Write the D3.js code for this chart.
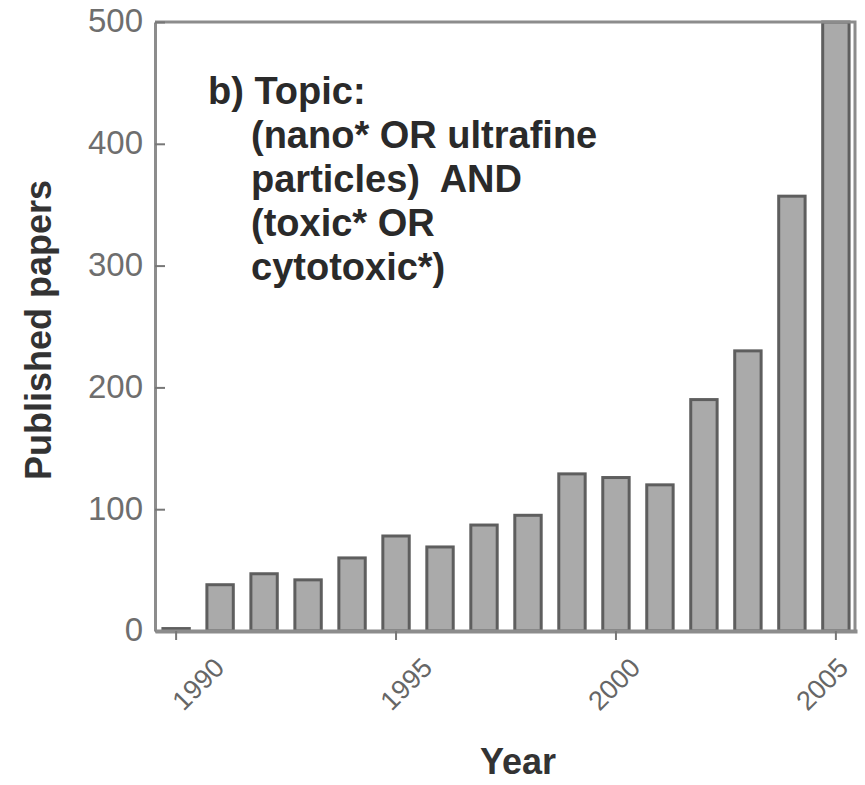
<!DOCTYPE html>
<html>
<head>
<meta charset="utf-8">
<script src="https://cdn.jsdelivr.net/npm/d3@7"></script>
<style>
  html, body { margin: 0; padding: 0; background: #fff; }
  svg { display: block; }
  text { font-family: "Liberation Sans", Arial, sans-serif; }
</style>
</head>
<body>
<svg id="chart" width="865" height="785"></svg>
<script>
// Published papers per year
const years = [1990, 1991, 1992, 1993, 1994, 1995, 1996, 1997, 1998, 1999, 2000, 2001, 2002, 2003, 2004, 2005];
const papers = [2, 38, 47, 42, 60, 78, 69, 87, 95, 129, 126, 120, 190, 230, 357, 500];
const yTicks = [0, 100, 200, 300, 400, 500];
const xTickYears = [1990, 1995, 2000, 2005];
const topicLines = ["b) Topic:", "(nano* OR ultrafine", "particles)  AND", "(toxic* OR", "cytotoxic*)"];

const svg = d3.select("#chart");
const plot = { left: 155, right: 855, top: 22, bottom: 631 };

const x = d3.scaleBand()
  .domain(years)
  .range([plot.left, plot.right + 2])
  .paddingInner(0.4)
  .paddingOuter(0.18);

const y = d3.scaleLinear().domain([0, 500]).range([plot.bottom, plot.top]);

// the rotated year labels sit on a slightly narrower span than the ticks
const xLabel = d3.scaleLinear().domain([1990, 2005]).range([198, 822]);

const axisColor = "#8c8c8c";

// bars
svg.append("g").selectAll("rect")
  .data(years.map((yr, i) => ({ yr, v: papers[i] })))
  .join("rect")
  .attr("x", d => x(d.yr))
  .attr("y", d => y(d.v))
  .attr("width", x.bandwidth())
  .attr("height", d => y(0) - y(d.v))
  .attr("fill", "#aaaaaa")
  .attr("stroke", "#5e5e5e")
  .attr("stroke-width", 3);

// frame: top and right borders
svg.append("path")
  .attr("d", `M${plot.left},${plot.top}H${plot.right}V${plot.bottom}`)
  .attr("fill", "none")
  .attr("stroke", axisColor)
  .attr("stroke-width", 3);

// y axis with inward ticks
const yAxis = svg.append("g")
  .attr("transform", `translate(${plot.left},0)`)
  .call(d3.axisLeft(y).tickValues(yTicks).tickSizeInner(-10).tickSizeOuter(0).tickPadding(12));
yAxis.select(".domain").attr("stroke", axisColor).attr("stroke-width", 3);
yAxis.selectAll(".tick line").attr("stroke", "#777").attr("stroke-width", 2);
yAxis.selectAll(".tick text")
  .attr("font-size", 33)
  .attr("fill", "#6e6e6e")
  .attr("dy", "0.3em");

// x axis: ticks from the band scale, labels rotated
const xAxis = svg.append("g")
  .attr("transform", `translate(0,${plot.bottom})`)
  .call(d3.axisBottom(x).tickValues(xTickYears).tickSizeInner(9).tickSizeOuter(0));
xAxis.select(".domain").attr("stroke", axisColor).attr("stroke-width", 4);
xAxis.selectAll(".tick line").attr("stroke", "#777").attr("stroke-width", 2);
xAxis.selectAll(".tick text").remove();

svg.append("g").selectAll("text")
  .data(xTickYears)
  .join("text")
  .attr("transform", d => `translate(${xLabel(d)},${plot.bottom + 53}) rotate(-45)`)
  .attr("text-anchor", "middle")
  .attr("dy", "0.35em")
  .attr("font-size", 27)
  .attr("fill", "#666")
  .text(d => d);

// axis titles
svg.append("text")
  .attr("transform", `translate(51,330) rotate(-90)`)
  .attr("text-anchor", "middle")
  .attr("font-size", 36)
  .attr("font-weight", "bold")
  .attr("fill", "#333")
  .text("Published papers");

svg.append("text")
  .attr("x", 518)
  .attr("y", 774)
  .attr("text-anchor", "middle")
  .attr("font-size", 36)
  .attr("font-weight", "bold")
  .attr("fill", "#333")
  .text("Year");

// query annotation
const note = svg.append("g").attr("font-size", 38).attr("font-weight", "bold").attr("fill", "#2a2a2a");
topicLines.forEach((line, i) => {
  note.append("text")
    .attr("x", i === 0 ? 208 : 251)
    .attr("y", 104 + i * 44)
    .style("white-space", "pre")
    .text(line);
});
</script>
</body>
</html>
